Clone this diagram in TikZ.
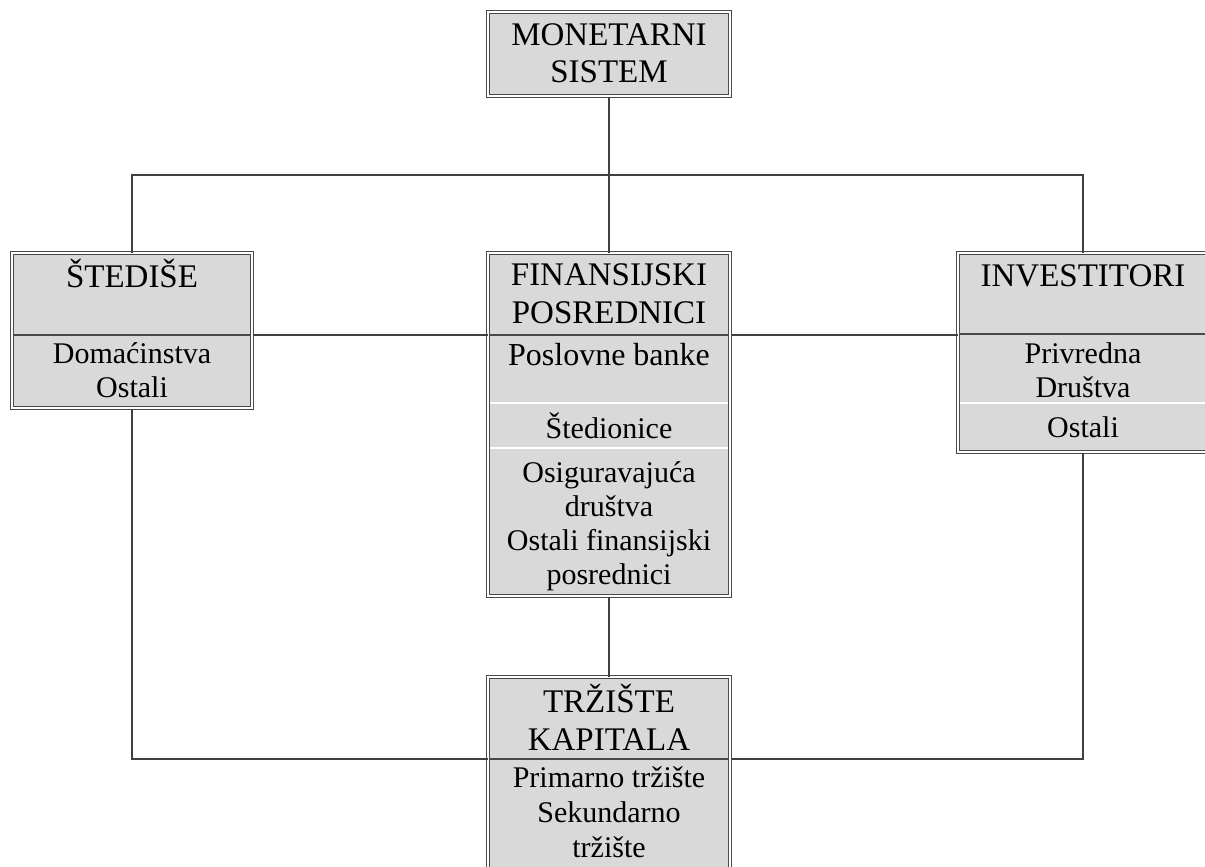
\documentclass[tikz,border=0pt]{standalone}
\usepackage{fontspec}
\setmainfont{Liberation Serif}
\definecolor{boxfill}{HTML}{D9D9D9}
\definecolor{rim}{HTML}{4A4A4A}
\definecolor{wire}{HTML}{404040}
\tikzset{
  panel/.style={draw=rim, line width=1pt, double=white, double distance=1.2pt,
                fill=boxfill, inner sep=0pt},
  % multi-line texts are placed by the baseline of their last line
  head/.style={font=\fontsize{33}{38}\selectfont, align=center, anchor=base, inner sep=0pt},
  body/.style={font=\fontsize{30}{34}\selectfont, align=center, anchor=base, inner sep=0pt},
  darkrule/.style={rim, line width=1.2pt},
  lightrule/.style={white, line width=2pt},
  wirestyle/.style={wire, line width=1.4pt},
}
\begin{document}
\begin{tikzpicture}[x=1pt, y=-1pt]
\clip (0,0) rectangle (1205,867);
\fill[white] (0,0) rectangle (1205,867);

% routing rows of the connector network
\coordinate (toprow) at (0,175);
\coordinate (midrow) at (0,335);
\coordinate (lowrow) at (0,759);

% boxes
\node[panel, minimum width=242pt, minimum height=84pt]  (mon)  at (609,54)    {};
\node[panel, minimum width=240pt, minimum height=155pt] (sted) at (132,330.5) {};
\node[panel, minimum width=242pt, minimum height=343pt] (fin)  at (609,424.5) {};
\node[panel, minimum width=250pt, minimum height=199pt] (inv)  at (1083,352.5){};
\node[panel, minimum width=242pt, minimum height=228pt] (trz)  at (609,791)   {};

% connectors
\draw[wirestyle] (mon.south) -- (fin.north);
\draw[wirestyle] (sted.north) |- (mon.south |- toprow) -| (inv.north);
\draw[wirestyle] (sted.east |- midrow) -- (fin.west |- midrow);
\draw[wirestyle] (fin.east |- midrow) -- (inv.west |- midrow);
\draw[wirestyle] (fin.south) -- (trz.north);
\draw[wirestyle] (sted.south) |- (trz.west |- lowrow);
\draw[wirestyle] (inv.south) |- (trz.east |- lowrow);

% inner rules of the boxes
\draw[darkrule] ([xshift=2.5pt]sted.west |- midrow) -- ([xshift=-2.5pt]sted.east |- midrow);
\draw[darkrule] ([xshift=2.5pt]fin.west |- midrow) -- ([xshift=-2.5pt]fin.east |- midrow);
\draw[darkrule] ([xshift=2.5pt]inv.west |- 0,334) -- ([xshift=-2.5pt]inv.east |- 0,334);
\draw[darkrule] ([xshift=2.5pt]trz.west |- lowrow) -- ([xshift=-2.5pt]trz.east |- lowrow);
\draw[lightrule] ([xshift=2.5pt]fin.west |- 0,403) -- ([xshift=-2.5pt]fin.east |- 0,403);
\draw[lightrule] ([xshift=2.5pt]fin.west |- 0,448) -- ([xshift=-2.5pt]fin.east |- 0,448);
\draw[lightrule] ([xshift=2.5pt]inv.west |- 0,403) -- ([xshift=-2.5pt]inv.east |- 0,403);

% texts
\node[head] (monT) at (609,83) {MONETARNI\\SISTEM};

\node[head] (stedT) at (132,287) {ŠTEDIŠE};
\node[body] (stedB) at (132,397) {Domaćinstva\\Ostali};

\node[head] (finT) at (609,323) {FINANSIJSKI\\POSREDNICI};
\node[body, font=\fontsize{32}{34}\selectfont] (finB1) at (609,365) {Poslovne banke};
\node[body] (finB2) at (609,438) {Štedionice};
\node[body] (finB3) at (609,584) {Osiguravajuća\\društva\\Ostali finansijski\\posrednici};

\node[head] (invT) at (1083,286) {INVESTITORI};
\node[body] (invB1) at (1083,397) {Privredna\\Društva};
\node[body] (invB2) at (1083,437) {Ostali};

\node[head] (trzT) at (609,750) {TRŽIŠTE\\KAPITALA};
\node[body, font=\fontsize{30}{35}\selectfont] (trzB) at (609,857) {Primarno tržište\\Sekundarno\\tržište};
\end{tikzpicture}
\end{document}
